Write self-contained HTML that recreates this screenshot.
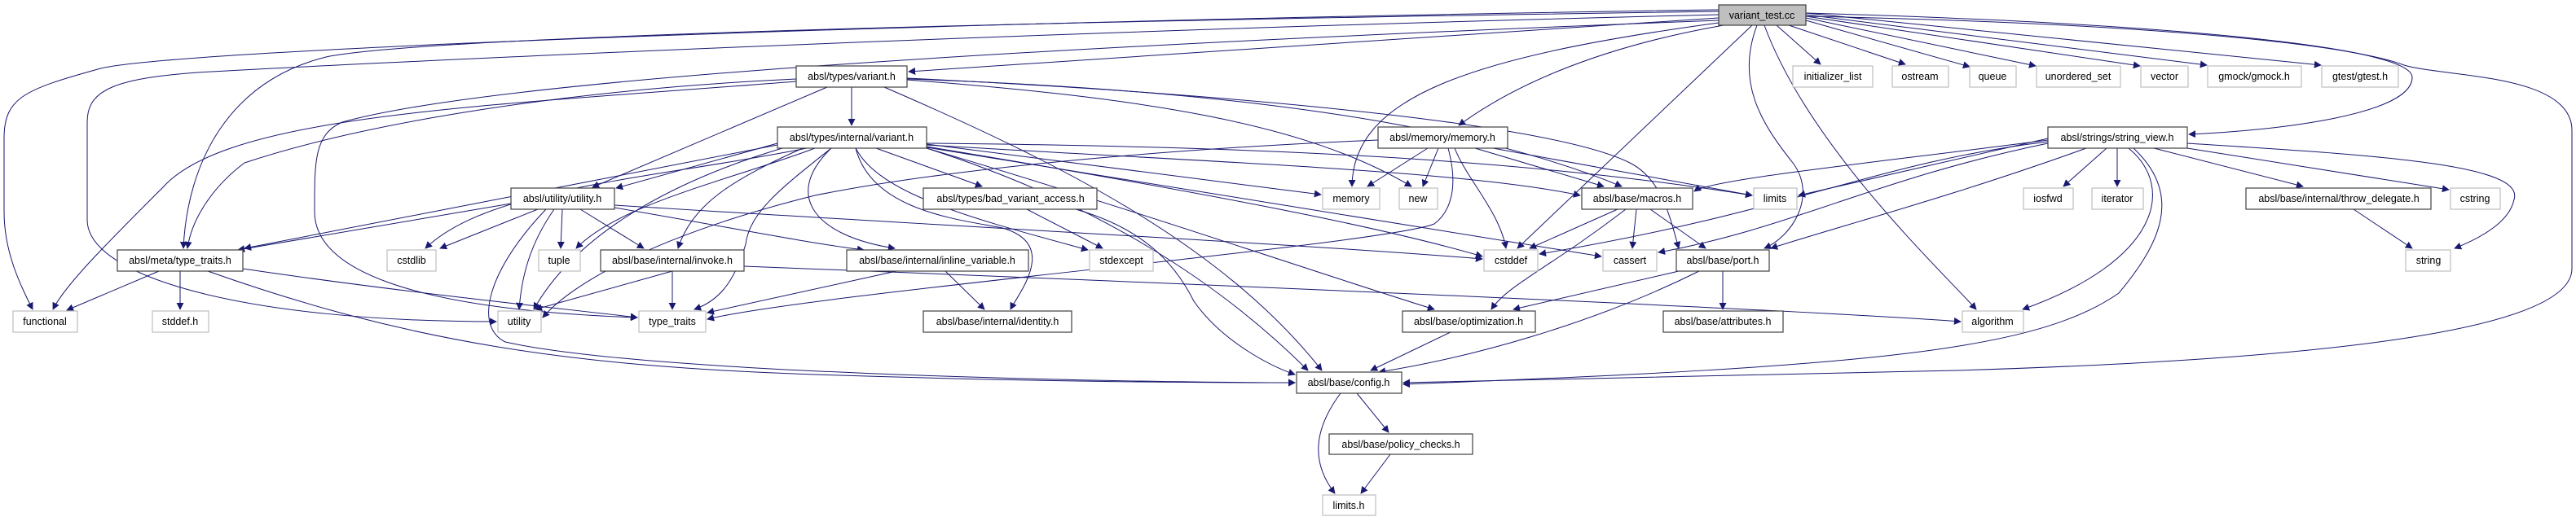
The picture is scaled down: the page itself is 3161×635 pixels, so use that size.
<!DOCTYPE html>
<html><head><meta charset="utf-8"><style>
html,body{margin:0;padding:0;background:#fff;}
svg{display:block;}
text{font-family:"Liberation Sans",Arial,sans-serif;font-size:12.5px;fill:#000;}
</style></head><body>
<svg width="3161" height="635" viewBox="0 0 3161 635" xmlns="http://www.w3.org/2000/svg">
<defs>
<marker id="a" viewBox="0 0 10 10" refX="9" refY="5" markerWidth="9" markerHeight="9" markerUnits="userSpaceOnUse" orient="auto">
<path d="M0,0 L10,5 L0,10 z" fill="#191970"/></marker>
</defs>
<g fill="none" stroke="#191970" stroke-width="1" marker-end="url(#a)">
<!-- variant_test.cc -->
<path d="M2109,12 C1200,25 200,60 120,85 C30,110 5,120 5,170 L5,260 C5,310 25,350 40,380"/>
<path d="M2109,14 C1000,30 500,50 400,70 C280,100 230,200 225,305"/>
<path d="M2109,18 C1200,40 400,80 260,88 C140,95 107,110 107,150 L107,270 C107,340 300,395 609,395"/>
<path d="M2109,25 C1200,60 600,100 420,150 C385,165 386,200 386,260 C386,330 500,380 782,390"/>
<path d="M2109,22 L1115,88"/>
<path d="M2115,31 C1950,60 1850,110 1790,154"/>
<path d="M2109,28 C1800,70 1660,120 1659,229"/>
<path d="M2150,31 L1862,305"/>
<path d="M2156,31 C2130,100 2160,150 2200,200 C2230,240 2200,290 2165,305"/>
<path d="M2165,31 C2220,180 2380,330 2425,380"/>
<path d="M2216,20 C2700,30 2900,60 2950,80 C3000,95 3156,90 3156,160 L3156,330 C3156,400 2900,440 2400,455 C2000,465 1800,470 1722,470"/>
<path d="M2216,16 C2700,30 2960,60 2960,95 C2960,140 2800,160 2686,165"/>
<path d="M2180,31 L2234,79"/>
<path d="M2195,31 L2338,79"/>
<path d="M2216,25 L2417,82"/>
<path d="M2216,22 L2498,81"/>
<path d="M2216,20 L2626,81"/>
<path d="M2216,18 L2708,80"/>
<path d="M2216,16 L2848,80"/>
<!-- variant.h -->
<path d="M1045,107 L1045,154"/>
<path d="M1015,107 L727,230"/>
<path d="M977,97 C700,110 450,150 300,200 C260,230 235,270 230,305"/>
<path d="M977,100 C600,130 280,140 200,230 C130,300 80,350 65,380"/>
<path d="M1085,107 C1300,200 1500,300 1622,455"/>
<path d="M1113,97 C1500,110 1800,150 1990,229"/>
<path d="M1113,96 C1500,115 1900,150 2000,200 C2040,220 2050,270 2060,305"/>
<path d="M1113,98 C1400,120 1600,150 1732,229"/>
<!-- internal/variant.h -->
<path d="M954,178 L300,305"/>
<path d="M954,176 L756,231"/>
<path d="M990,182 C800,220 600,230 522,305"/>
<path d="M1000,182 C900,220 760,250 707,305"/>
<path d="M985,182 C900,220 850,250 832,305"/>
<path d="M1020,182 C960,240 1000,290 1098,305"/>
<path d="M1075,182 L1205,229"/>
<path d="M1050,182 C1070,260 1180,270 1230,280 C1300,300 1250,360 1240,380"/>
<path d="M1020,182 C960,230 920,260 915,300 C900,350 880,370 852,380"/>
<path d="M960,182 C800,230 700,300 655,380"/>
<path d="M1050,182 C1080,240 1200,270 1335,307"/>
<path d="M1137,177 L1621,239"/>
<path d="M1137,178 C1500,200 1800,210 1939,240"/>
<path d="M1137,180 C1500,240 1700,280 1819,315"/>
<path d="M1137,181 C1500,240 1800,290 1965,315"/>
<path d="M1137,182 C1350,250 1500,350 1605,455"/>
<path d="M1137,182 C1400,260 1600,330 1760,380"/>
<path d="M1137,176 C1600,180 1900,200 2150,240"/>
<!-- utility.h -->
<path d="M627,250 L292,307"/>
<path d="M660,257 L540,305"/>
<path d="M690,257 L688,305"/>
<path d="M712,257 L790,305"/>
<path d="M680,257 C650,300 640,340 637,380"/>
<path d="M670,257 C600,330 580,400 620,420 C800,460 1400,470 1589,470"/>
<path d="M754,255 C900,280 1000,300 1060,307"/>
<path d="M754,252 C1200,280 1600,300 1819,318"/>
<!-- meta/type_traits.h -->
<path d="M195,333 L82,381"/>
<path d="M221,333 L221,380"/>
<path d="M298,330 C500,360 700,380 782,390"/>
<path d="M255,333 C500,420 700,450 1000,460 C1300,470 1500,470 1589,470"/>
<!-- invoke.h, inline_variable, bad_variant_access -->
<path d="M825,333 L657,380"/>
<path d="M825,333 L825,380"/>
<path d="M913,327 C1500,350 2200,380 2406,395"/>
<path d="M1100,333 L868,384"/>
<path d="M1160,333 L1208,380"/>
<path d="M1260,257 L1353,305"/>
<path d="M1320,257 C1400,280 1440,320 1465,370 C1500,420 1560,450 1589,460"/>
<!-- memory.h -->
<path d="M1752,182 L1678,229"/>
<path d="M1765,182 L1746,229"/>
<path d="M1810,182 L1968,229"/>
<path d="M1832,182 L2150,240"/>
<path d="M1785,182 C1800,220 1840,260 1848,305"/>
<path d="M1777,182 C1790,230 1780,260 1760,275 C1700,300 1000,360 868,392"/>
<path d="M1691,172 C1500,180 1200,200 1000,240 C800,290 700,350 666,390"/>
<!-- macros.h -->
<path d="M1985,257 L1877,305"/>
<path d="M2008,257 L2003,305"/>
<path d="M2025,257 L2093,305"/>
<path d="M1995,257 C1900,330 1850,350 1830,380"/>
<!-- port.h -->
<path d="M2060,333 L1857,380"/>
<path d="M2085,333 C1950,400 1800,440 1692,457"/>
<path d="M2114,333 L2114,380"/>
<!-- optimization / config / policy -->
<path d="M1780,408 L1682,455"/>
<path d="M1665,483 L1704,531"/>
<path d="M1645,483 C1610,530 1610,570 1638,606"/>
<path d="M1706,558 L1670,606"/>
<!-- string_view.h -->
<path d="M2513,170 L2207,240"/>
<path d="M2513,172 C2300,200 2100,220 2079,235"/>
<path d="M2513,174 C2300,200 2200,260 1889,312"/>
<path d="M2513,176 C2300,220 2200,280 2035,310"/>
<path d="M2560,182 C2400,240 2250,280 2173,305"/>
<path d="M2585,182 L2532,229"/>
<path d="M2598,182 L2598,229"/>
<path d="M2643,182 L2826,229"/>
<path d="M2684,182 L3005,233"/>
<path d="M2684,176 C2900,190 3100,200 3085,245 C3080,270 3050,290 3012,305"/>
<path d="M2612,182 C2670,230 2650,320 2482,380"/>
<path d="M2618,182 C2680,240 2650,300 2600,360 C2500,430 2300,450 1722,472"/>
<path d="M2888,257 L2960,305"/>
</g>
<g stroke-width="1.2">
<!-- documented nodes (black) -->
<g fill="#fff" stroke="#404040">
<rect x="977" y="81" width="136" height="26"/>
<rect x="954" y="156" width="183" height="26"/>
<rect x="1691" y="156" width="159" height="26"/>
<rect x="2513" y="156" width="171" height="26"/>
<rect x="627" y="231" width="127" height="26"/>
<rect x="1133" y="231" width="213" height="26"/>
<rect x="1941" y="231" width="136" height="26"/>
<rect x="2756" y="231" width="227" height="26"/>
<rect x="144" y="307" width="154" height="26"/>
<rect x="737" y="307" width="176" height="26"/>
<rect x="1039" y="307" width="223" height="26"/>
<rect x="2057" y="307" width="114" height="26"/>
<rect x="1133" y="382" width="182" height="26"/>
<rect x="1721" y="382" width="163" height="26"/>
<rect x="2041" y="382" width="147" height="26"/>
<rect x="1591" y="457" width="129" height="26"/>
<rect x="1631" y="533" width="176" height="25"/>
</g>
<rect x="2109" y="6" width="107" height="25" fill="#bfbfbf" stroke="#404040"/>
<!-- undocumented (grey) -->
<g fill="#fff" stroke="#bfbfbf">
<rect x="2200" y="81" width="98" height="26"/>
<rect x="2322" y="81" width="69" height="26"/>
<rect x="2417" y="81" width="57" height="26"/>
<rect x="2499" y="81" width="103" height="26"/>
<rect x="2627" y="81" width="58" height="26"/>
<rect x="2709" y="81" width="115" height="26"/>
<rect x="2849" y="81" width="94" height="26"/>
<rect x="1623" y="231" width="70" height="26"/>
<rect x="1717" y="231" width="47" height="26"/>
<rect x="2152" y="231" width="53" height="26"/>
<rect x="2483" y="231" width="61" height="26"/>
<rect x="2567" y="231" width="63" height="26"/>
<rect x="3007" y="231" width="61" height="26"/>
<rect x="475" y="307" width="60" height="26"/>
<rect x="661" y="307" width="51" height="26"/>
<rect x="1337" y="307" width="78" height="26"/>
<rect x="1821" y="307" width="66" height="26"/>
<rect x="1967" y="307" width="66" height="26"/>
<rect x="2952" y="307" width="55" height="26"/>
<rect x="16" y="382" width="79" height="26"/>
<rect x="187" y="382" width="69" height="26"/>
<rect x="611" y="382" width="53" height="26"/>
<rect x="784" y="382" width="82" height="26"/>
<rect x="2408" y="382" width="75" height="26"/>
<rect x="1623" y="608" width="65" height="25"/>
</g>
</g>
<g text-anchor="middle">
<text x="2162" y="23">variant_test.cc</text>
<text x="1045" y="98">absl/types/variant.h</text>
<text x="2249" y="98">initializer_list</text>
<text x="2356" y="98">ostream</text>
<text x="2445" y="98">queue</text>
<text x="2550" y="98">unordered_set</text>
<text x="2656" y="98">vector</text>
<text x="2766" y="98">gmock/gmock.h</text>
<text x="2896" y="98">gtest/gtest.h</text>
<text x="1045" y="173">absl/types/internal/variant.h</text>
<text x="1770" y="173">absl/memory/memory.h</text>
<text x="2598" y="173">absl/strings/string_view.h</text>
<text x="690" y="248">absl/utility/utility.h</text>
<text x="1240" y="248">absl/types/bad_variant_access.h</text>
<text x="1658" y="248">memory</text>
<text x="1740" y="248">new</text>
<text x="2009" y="248">absl/base/macros.h</text>
<text x="2178" y="248">limits</text>
<text x="2513" y="248">iosfwd</text>
<text x="2598" y="248">iterator</text>
<text x="2870" y="248">absl/base/internal/throw_delegate.h</text>
<text x="3037" y="248">cstring</text>
<text x="221" y="324">absl/meta/type_traits.h</text>
<text x="505" y="324">cstdlib</text>
<text x="686" y="324">tuple</text>
<text x="825" y="324">absl/base/internal/invoke.h</text>
<text x="1150" y="324">absl/base/internal/inline_variable.h</text>
<text x="1376" y="324">stdexcept</text>
<text x="1854" y="324">cstddef</text>
<text x="2000" y="324">cassert</text>
<text x="2114" y="324">absl/base/port.h</text>
<text x="2980" y="324">string</text>
<text x="55" y="399">functional</text>
<text x="221" y="399">stddef.h</text>
<text x="637" y="399">utility</text>
<text x="825" y="399">type_traits</text>
<text x="1224" y="399">absl/base/internal/identity.h</text>
<text x="1802" y="399">absl/base/optimization.h</text>
<text x="2114" y="399">absl/base/attributes.h</text>
<text x="2445" y="399">algorithm</text>
<text x="1655" y="474">absl/base/config.h</text>
<text x="1719" y="550">absl/base/policy_checks.h</text>
<text x="1655" y="625">limits.h</text>
</g>
</svg>
</body></html>
